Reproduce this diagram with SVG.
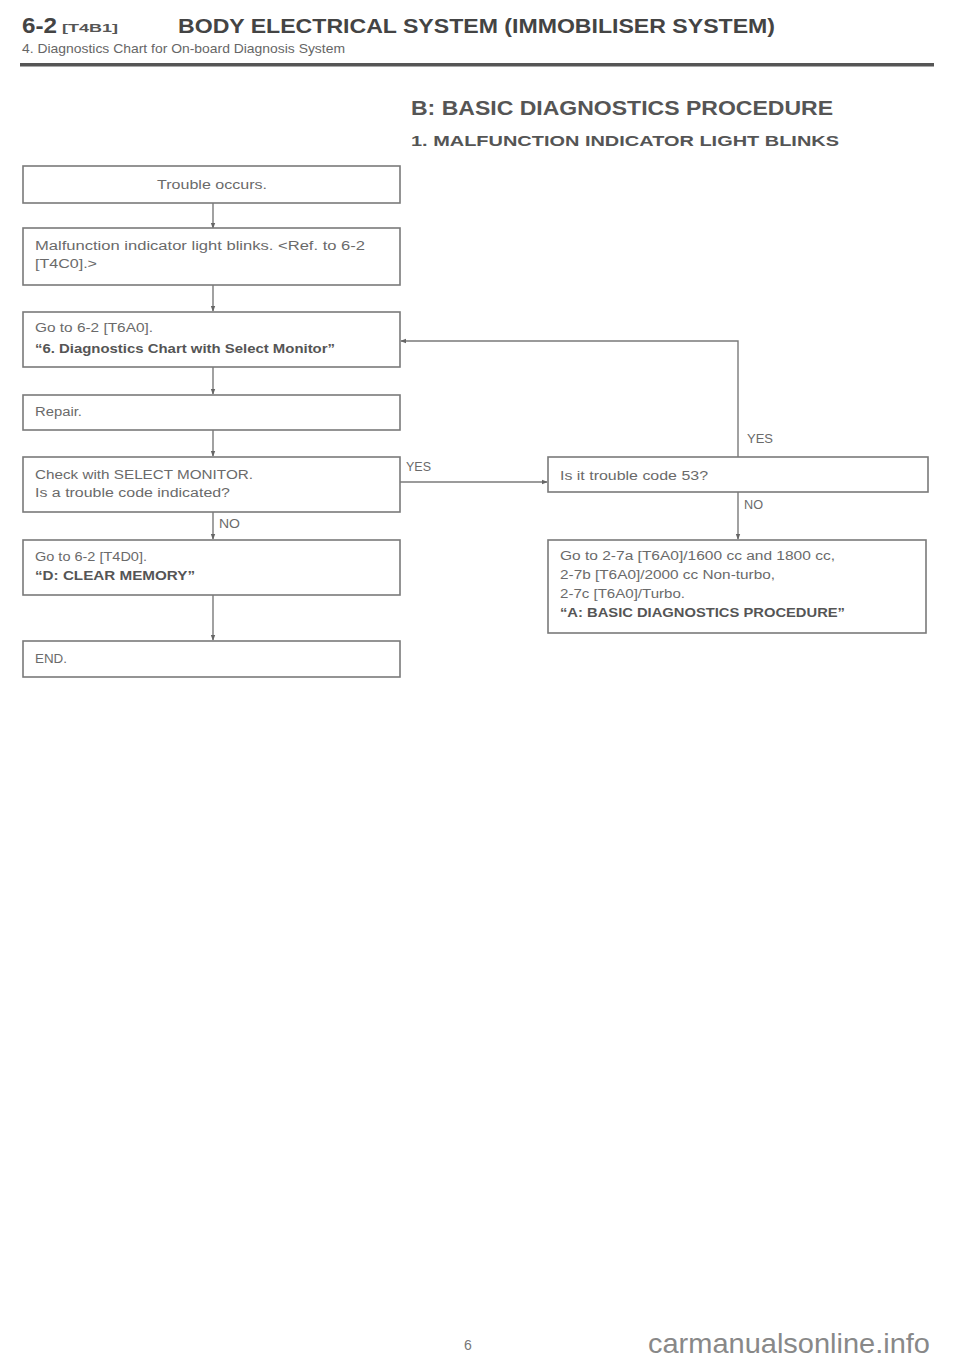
<svg xmlns="http://www.w3.org/2000/svg" width="960" height="1364" viewBox="0 0 960 1364">
<defs>
<style>
.box{fill:#fff;stroke:#7a7a7a;stroke-width:1.6}
.t{font-family:"Liberation Sans",Arial,sans-serif;font-size:12.5px;fill:#6a6a6a}
.b{font-family:"Liberation Sans",Arial,sans-serif;font-size:12.5px;fill:#555;font-weight:bold}
.ln{stroke:#7a7a7a;stroke-width:1.4;fill:none}
.lbl{font-family:"Liberation Sans",Arial,sans-serif;font-size:12px;fill:#6a6a6a}
</style>
<marker id="ah" viewBox="0 0 8 8" refX="7" refY="4" markerWidth="6" markerHeight="6" orient="auto" markerUnits="userSpaceOnUse">
<path d="M0,1 L8,4 L0,7 Z" fill="#666"/>
</marker>
</defs>
<rect width="960" height="1364" fill="#fff"/>
<g id="header">
<text x="22" y="33" font-family="Liberation Sans,Arial,sans-serif" font-size="22" font-weight="bold" fill="#444" textLength="35" lengthAdjust="spacingAndGlyphs">6-2</text>
<text x="62" y="32" font-family="Liberation Sans,Arial,sans-serif" font-size="11.5" font-weight="bold" fill="#555" textLength="56" lengthAdjust="spacingAndGlyphs">[T4B1]</text>
<text x="178" y="33" font-family="Liberation Sans,Arial,sans-serif" font-size="20" font-weight="bold" fill="#444" textLength="597" lengthAdjust="spacingAndGlyphs">BODY ELECTRICAL SYSTEM (IMMOBILISER SYSTEM)</text>
<text x="22" y="53" font-family="Liberation Sans,Arial,sans-serif" font-size="13" fill="#666" textLength="323" lengthAdjust="spacingAndGlyphs">4. Diagnostics Chart for On-board Diagnosis System</text>
<rect x="20" y="63" width="914" height="3.5" fill="#555"/>
<text x="411" y="115" font-family="Liberation Sans,Arial,sans-serif" font-size="19.5" font-weight="bold" fill="#555" textLength="422" lengthAdjust="spacingAndGlyphs">B: BASIC DIAGNOSTICS PROCEDURE</text>
<text x="411" y="146" font-family="Liberation Sans,Arial,sans-serif" font-size="15" font-weight="bold" fill="#555" textLength="428" lengthAdjust="spacingAndGlyphs">1. MALFUNCTION INDICATOR LIGHT BLINKS</text>
</g>
<g id="connectors">
<line class="ln" x1="213" y1="203" x2="213" y2="228" marker-end="url(#ah)"/>
<line class="ln" x1="213" y1="285" x2="213" y2="311" marker-end="url(#ah)"/>
<line class="ln" x1="213" y1="367" x2="213" y2="394" marker-end="url(#ah)"/>
<line class="ln" x1="213" y1="430" x2="213" y2="456" marker-end="url(#ah)"/>
<line class="ln" x1="213" y1="512" x2="213" y2="539" marker-end="url(#ah)"/>
<line class="ln" x1="213" y1="595" x2="213" y2="640" marker-end="url(#ah)"/>
<line class="ln" x1="400" y1="482" x2="547" y2="482" marker-end="url(#ah)"/>
<polyline class="ln" points="738,457 738,341 401,341" marker-end="url(#ah)"/>
<line class="ln" x1="738" y1="492" x2="738" y2="539" marker-end="url(#ah)"/>
<text class="lbl" x="219" y="528" textLength="21" lengthAdjust="spacingAndGlyphs">NO</text>
<text class="lbl" x="406" y="471" textLength="25" lengthAdjust="spacingAndGlyphs">YES</text>
<text class="lbl" x="747" y="443" textLength="26" lengthAdjust="spacingAndGlyphs">YES</text>
<text class="lbl" x="744" y="509" textLength="19" lengthAdjust="spacingAndGlyphs">NO</text>
</g>
<g id="n1"><rect class="box" x="23" y="166" width="377" height="37"/><text class="t" x="157" y="189" textLength="110" lengthAdjust="spacingAndGlyphs">Trouble occurs.</text></g>
<g id="n2"><rect class="box" x="23" y="228" width="377" height="57"/><text class="t" x="35" y="250" textLength="330" lengthAdjust="spacingAndGlyphs">Malfunction indicator light blinks.  &lt;Ref. to 6-2</text><text class="t" x="35" y="268" textLength="62" lengthAdjust="spacingAndGlyphs">[T4C0].&gt;</text></g>
<g id="n3"><rect class="box" x="23" y="312" width="377" height="55"/><text class="t" x="35" y="332" textLength="118" lengthAdjust="spacingAndGlyphs">Go to 6-2 [T6A0].</text><text class="b" x="35" y="353" textLength="300" lengthAdjust="spacingAndGlyphs">“6. Diagnostics Chart with Select Monitor”</text></g>
<g id="n4"><rect class="box" x="23" y="395" width="377" height="35"/><text class="t" x="35" y="416" textLength="47" lengthAdjust="spacingAndGlyphs">Repair.</text></g>
<g id="n5"><rect class="box" x="23" y="457" width="377" height="55"/><text class="t" x="35" y="479" textLength="218" lengthAdjust="spacingAndGlyphs">Check with SELECT MONITOR.</text><text class="t" x="35" y="497" textLength="195" lengthAdjust="spacingAndGlyphs">Is a trouble code indicated?</text></g>
<g id="n6"><rect class="box" x="23" y="540" width="377" height="55"/><text class="t" x="35" y="561" textLength="112" lengthAdjust="spacingAndGlyphs">Go to 6-2 [T4D0].</text><text class="b" x="35" y="580" textLength="160" lengthAdjust="spacingAndGlyphs">“D: CLEAR MEMORY”</text></g>
<g id="n7"><rect class="box" x="23" y="641" width="377" height="36"/><text class="t" x="35" y="663" textLength="32" lengthAdjust="spacingAndGlyphs">END.</text></g>
<g id="n8"><rect class="box" x="548" y="457" width="380" height="35"/><text class="t" x="560" y="480" textLength="148" lengthAdjust="spacingAndGlyphs">Is it trouble code 53?</text></g>
<g id="n9"><rect class="box" x="548" y="540" width="378" height="93"/><text class="t" x="560" y="560" textLength="275" lengthAdjust="spacingAndGlyphs">Go to 2-7a [T6A0]/1600 cc and 1800 cc,</text><text class="t" x="560" y="579" textLength="215" lengthAdjust="spacingAndGlyphs">2-7b [T6A0]/2000 cc Non-turbo,</text><text class="t" x="560" y="598" textLength="125" lengthAdjust="spacingAndGlyphs">2-7c [T6A0]/Turbo.</text><text class="b" x="560" y="617" textLength="285" lengthAdjust="spacingAndGlyphs">“A: BASIC DIAGNOSTICS PROCEDURE”</text></g>
<g id="footer">
<text x="468" y="1350" font-family="Liberation Sans,Arial,sans-serif" font-size="14" fill="#777" text-anchor="middle">6</text>
<text x="648" y="1353" font-family="Liberation Sans,Arial,sans-serif" font-size="28" fill="#888" textLength="282" lengthAdjust="spacingAndGlyphs">carmanualsonline.info</text>
</g>
</svg>
